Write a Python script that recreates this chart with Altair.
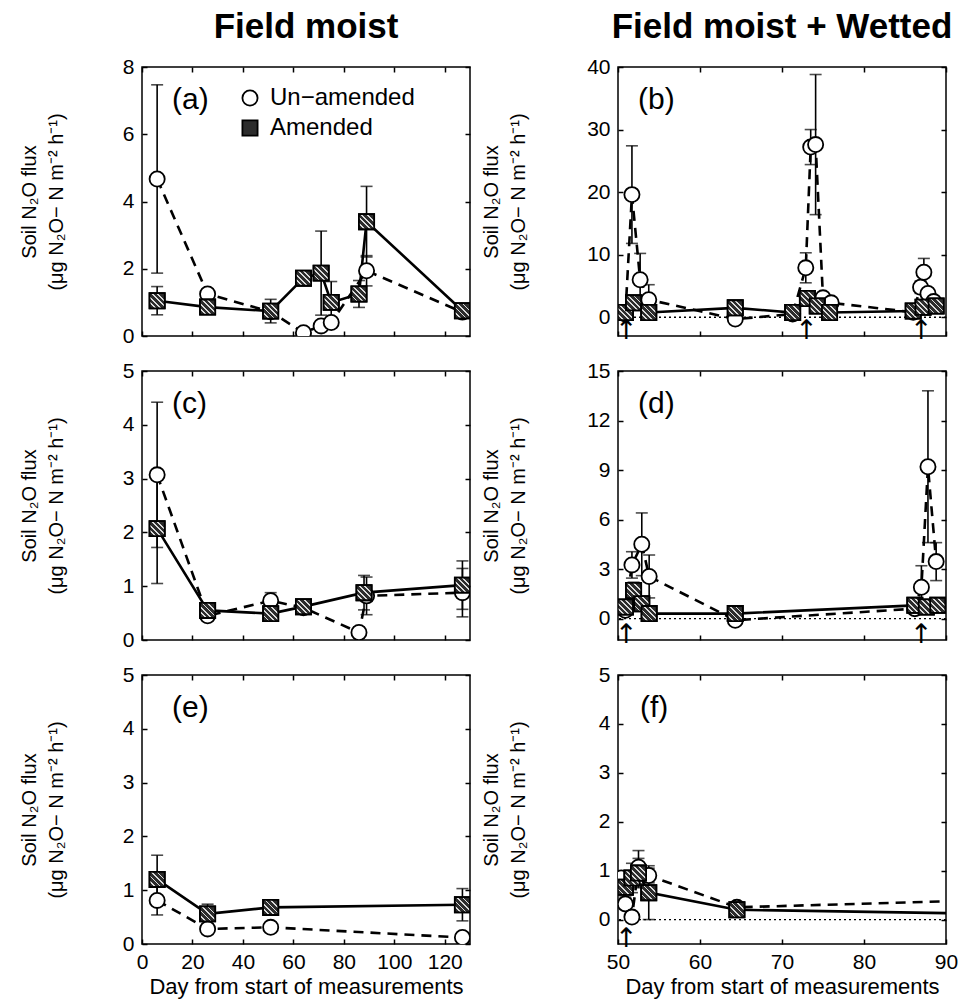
import altair as alt
import pandas as pd

FONT = "Liberation Sans"
W, H = 328, 269

series_names = ["Un−amended", "Amended"]

# ---------------- data ----------------
# (a) Field moist
a_ua_day = [6, 26, 51, 64, 71, 75, 89, 127]
a_ua_val = [4.67, 1.25, 0.72, 0.10, 0.30, 0.40, 1.94, 0.71]
a_ua_err = [2.80, 0.15, 0.15, 0.10, 0.10, 0.10, 0.45, 0.10]
a_am_day = [6, 26, 51, 64, 71, 75, 86, 89, 127]
a_am_val = [1.05, 0.86, 0.74, 1.72, 1.87, 1.00, 1.25, 3.40, 0.75]
a_am_err = [0.42, 0.10, 0.35, 0.10, 1.25, 0.62, 0.40, 1.05, 0.10]

# (b) Field moist + Wetted
b_ua_day = [50.9, 51.7, 52.7, 53.75, 64.3, 71.3, 72.9, 73.5, 74.1, 75.0, 76.0, 86.0, 86.9, 87.3, 87.8, 88.5]
b_ua_val = [0.5, 19.6, 6.0, 2.8, -0.3, 0.5, 7.9, 27.2, 27.6, 3.1, 2.3, 0.8, 4.8, 7.2, 3.8, 2.5]
b_ua_err = [0.5, 7.8, 4.2, 2.4, 0.5, 0.5, 2.4, 2.8, 11.2, 0.8, 0.6, 0.5, 1.0, 2.2, 0.8, 0.6]
b_am_day = [50.9, 51.9, 53.75, 64.3, 71.3, 73.1, 74.3, 75.8, 86.0, 87.2, 88.8]
b_am_val = [0.75, 2.3, 0.75, 1.5, 0.75, 3.0, 1.8, 0.75, 1.0, 1.6, 1.8]
b_am_err = [0.4, 1.0, 0.4, 0.4, 0.4, 0.8, 0.5, 0.4, 0.4, 0.5, 0.5]

# (c) Field moist
c_ua_day = [6, 26, 51, 64, 86, 89, 127]
c_ua_val = [3.07, 0.45, 0.73, 0.60, 0.14, 0.82, 0.88]
c_ua_err = [1.35, 0.08, 0.15, 0.10, 0.10, 0.35, 0.45]
c_am_day = [6, 26, 51, 64, 88, 127]
c_am_val = [2.07, 0.55, 0.49, 0.62, 0.88, 1.02]
c_am_err = [1.02, 0.08, 0.10, 0.10, 0.32, 0.45]

# (d) Field moist + Wetted
d_ua_day = [50.9, 51.7, 52.9, 53.8, 64.3, 86.2, 87.0, 87.8, 88.8]
d_ua_val = [0.5, 3.25, 4.5, 2.55, -0.1, 0.6, 1.9, 9.2, 3.45]
d_ua_err = [0.3, 0.8, 1.9, 1.3, 0.15, 0.3, 1.3, 4.6, 1.15]
d_am_day = [50.9, 51.9, 52.9, 53.8, 64.3, 86.2, 87.6, 89.0]
d_am_val = [0.7, 1.7, 0.9, 0.3, 0.3, 0.8, 0.7, 0.8]
d_am_err = [0.2, 0.5, 0.3, 0.15, 0.1, 0.3, 0.3, 0.3]

# (e) Field moist
e_ua_day = [6, 26, 51, 127]
e_ua_val = [0.81, 0.28, 0.31, 0.12]
e_ua_err = [0.27, 0.05, 0.05, 0.05]
e_am_day = [6, 26, 51, 127]
e_am_val = [1.20, 0.56, 0.68, 0.73]
e_am_err = [0.45, 0.18, 0.08, 0.30]

# (f) Field moist + Wetted
f_ua_day = [50.4, 50.9, 51.7, 52.5, 53.75, 64.5, 127]
f_ua_val = [0.85, 0.32, 0.05, 1.07, 0.90, 0.25, 0.55]
f_ua_err = [0.10, 0.10, 0.10, 0.34, 0.15, 0.05, 0.05]
f_am_day = [50.9, 51.7, 52.5, 53.75, 64.5, 127]
f_am_val = [0.66, 0.85, 0.95, 0.55, 0.20, 0.03]
f_am_err = [0.20, 0.30, 0.30, 0.55, 0.05, 0.05]

left_x_domain = [0, 130]
left_x_ticks = [0, 20, 40, 60, 80, 100, 120]
right_x_domain = [50, 90]
right_x_ticks = [50, 60, 70, 80, 90]

a_y_domain, a_y_ticks = [0, 8], [0, 2, 4, 6, 8]
b_y_domain, b_y_ticks = [-3, 40], [0, 10, 20, 30, 40]
c_y_domain, c_y_ticks = [0, 5], [0, 1, 2, 3, 4, 5]
d_y_domain, d_y_ticks = [-1.3, 15], [0, 3, 6, 9, 12, 15]
e_y_domain, e_y_ticks = [0, 5], [0, 1, 2, 3, 4, 5]
f_y_domain, f_y_ticks = [-0.5, 5], [0, 1, 2, 3, 4, 5]

b_arrows = [51, 73, 87]
d_arrows = [51, 87]
f_arrows = [51]

col_titles = ["Field moist", "Field moist + Wetted"]
x_title = "Day from start of measurements"
y_title = ["Soil N₂O flux", "(μg N₂O− N m⁻² h⁻¹)"]

# ---------------- style ----------------
dark, light = "#2c2c2c", "#d9d9d9"
stops = [alt.GradientStop(color=dark, offset=0)]
for lo_, hi_ in [(0.17, 0.23), (0.35, 0.41), (0.53, 0.59), (0.71, 0.77)]:
    stops += [alt.GradientStop(color=dark, offset=lo_), alt.GradientStop(color=light, offset=lo_),
              alt.GradientStop(color=light, offset=hi_), alt.GradientStop(color=dark, offset=hi_)]
stops.append(alt.GradientStop(color=dark, offset=1))
stripe = alt.LinearGradient(gradient="linear", x1=0, y1=1, x2=1, y2=0, stops=stops)

MSIZE = 230


def panel(letter, ua, am, xdom, xticks, ydom, yticks, arrows=None, title=None,
          bottom=False, legend=False, title_x=-118, label_x=30):
    df_ua = pd.DataFrame({"day": ua[0], "val": ua[1], "err": ua[2]})
    df_ua["series"] = series_names[0]
    df_am = pd.DataFrame({"day": am[0], "val": am[1], "err": am[2]})
    df_am["series"] = series_names[1]
    df = pd.concat([df_ua, df_am], ignore_index=True)
    df["lo"] = df["val"] - df["err"]
    df["hi"] = df["val"] + df["err"]
    inside = df[(df["day"] >= xdom[0]) & (df["day"] <= xdom[1])]

    xs = alt.Scale(domain=xdom, nice=False, zero=False)
    ys = alt.Scale(domain=ydom, nice=False, zero=False)

    def X():
        return alt.X("day:Q", scale=xs, axis=None)

    def Y(f="val"):
        return alt.Y(f"{f}:Q", scale=ys, axis=None)

    common_axis = dict(offset=-5, tickSize=5, tickWidth=1.5, tickColor="black",
                       domain=False, grid=False)
    xaxis_main = alt.Axis(orient="bottom", values=xticks, labels=bottom, format="d",
                          labelFont=FONT, labelFontSize=21, labelColor="black",
                          labelPadding=7, labelOverlap=False, labelFlush=False,
                          title=x_title if bottom else None, titleFont=FONT,
                          titleFontSize=22, titleFontWeight="normal", titleColor="black",
                          titlePadding=4, **common_axis)
    yaxis_main = alt.Axis(orient="left", values=yticks, format="d",
                          labelFont=FONT, labelFontSize=21, labelColor="black",
                          labelPadding=8, labelOverlap=False, labelFlush=False,
                          title=y_title, titleFont=FONT, titleFontSize=20,
                          titleFontWeight="normal", titleColor="black",
                          titleLineHeight=27, titleX=title_x, titleY=H / 2,
                          titleAngle=270, titleAlign="center", titleBaseline="middle",
                          **common_axis)
    xaxis_top = alt.Axis(orient="top", values=xticks, labels=False, title=None, **common_axis)
    yaxis_right = alt.Axis(orient="right", values=yticks, labels=False, title=None, **common_axis)

    carrier = alt.Chart(inside)
    ax_main = carrier.mark_point(opacity=0, clip=True).encode(
        x=alt.X("day:Q", scale=xs, axis=xaxis_main),
        y=alt.Y("val:Q", scale=ys, axis=yaxis_main))
    ax_mirror = carrier.mark_point(opacity=0, clip=True).encode(
        x=alt.X("day:Q", scale=xs, axis=xaxis_top),
        y=alt.Y("val:Q", scale=ys, axis=yaxis_right))

    layers = [ax_main, ax_mirror]

    if arrows is not None:
        zero = alt.Chart(pd.DataFrame({"z": [0]})).mark_rule(
            color="black", strokeWidth=1.3, strokeDash=[2, 3]).encode(y=Y("z"))
        layers.append(zero)

    base = alt.Chart(df)
    line_ua = base.transform_filter(alt.datum.series == series_names[0]).mark_line(
        color="black", strokeWidth=2.6, strokeDash=[10, 7], clip=True).encode(x=X(), y=Y())
    line_am = base.transform_filter(alt.datum.series == series_names[1]).mark_line(
        color="black", strokeWidth=2.6, clip=True).encode(x=X(), y=Y())
    pbase = alt.Chart(inside)
    err = pbase.mark_rule(color="black", strokeWidth=1.6, clip=True).encode(
        x=X(), y=Y("lo"), y2=alt.Y2("hi:Q"))
    cap_hi = pbase.mark_tick(orient="horizontal", size=12, thickness=1.6, color="black",
                             clip=True).encode(x=X(), y=Y("hi"))
    cap_lo = pbase.mark_tick(orient="horizontal", size=12, thickness=1.6, color="black",
                             clip=True).encode(x=X(), y=Y("lo"))

    leg = None
    if legend:
        leg = alt.Legend(orient="none", legendX=96, legendY=19, title=None,
                         labelFont=FONT, labelFontSize=24, labelColor="black",
                         labelOffset=8, symbolSize=MSIZE, symbolStrokeColor="black",
                         symbolStrokeWidth=1.8, rowPadding=6, padding=0)
    pts = pbase.mark_point(filled=True, size=MSIZE, strokeWidth=1.8,
                           opacity=1, clip=True).encode(
        x=X(), y=Y(),
        shape=alt.Shape("series:N", scale=alt.Scale(domain=series_names, range=["circle", "square"]),
                        legend=leg),
        fill=alt.Fill("series:N", scale=alt.Scale(domain=series_names, range=["white", dark]),
                      legend=leg),
        stroke=alt.Stroke("series:N", scale=alt.Scale(domain=series_names, range=["black", "black"]),
                          legend=leg),
        order=alt.Order("sortkey:Q"),
    ).transform_calculate(sortkey=f"datum.series == '{series_names[0]}' ? 0 : 1")
    stripes = pbase.transform_filter(alt.datum.series == series_names[1]).mark_point(
        shape="square", filled=True, size=MSIZE, fill=stripe, stroke="black",
        strokeWidth=1.8, opacity=1, clip=True).encode(x=X(), y=Y())

    layers += [line_ua, line_am, err, cap_hi, cap_lo, pts, stripes]

    if arrows is not None:
        arr = alt.Chart(pd.DataFrame({"day": arrows, "y": [ydom[0]] * len(arrows)})).mark_text(
            text="↑", font="DejaVu Sans", fontSize=27, baseline="alphabetic", align="center",
            color="black", dy=3).encode(x=X(), y=Y("y"))
        layers.append(arr)

    lab = alt.Chart(pd.DataFrame({"t": [f"({letter})"]})).mark_text(
        font=FONT, fontSize=30, align="left", baseline="middle", color="black").encode(
        text="t:N", x=alt.value(label_x), y=alt.value(33))
    layers.append(lab)

    ch = alt.layer(*layers).resolve_axis(x="independent", y="independent").properties(
        width=W, height=H)
    if title is not None:
        ch = ch.properties(title=alt.Title(title, font=FONT, fontSize=35, fontWeight="bold",
                                           anchor="middle", offset=11, color="black"))
    return ch


pa = panel("a", (a_ua_day, a_ua_val, a_ua_err), (a_am_day, a_am_val, a_am_err),
           left_x_domain, left_x_ticks, a_y_domain, a_y_ticks, title=col_titles[0], legend=True)
pb = panel("b", (b_ua_day, b_ua_val, b_ua_err), (b_am_day, b_am_val, b_am_err),
           right_x_domain, right_x_ticks, b_y_domain, b_y_ticks, arrows=b_arrows,
           title=col_titles[1], title_x=-132, label_x=20)
pc = panel("c", (c_ua_day, c_ua_val, c_ua_err), (c_am_day, c_am_val, c_am_err),
           left_x_domain, left_x_ticks, c_y_domain, c_y_ticks)
pd_ = panel("d", (d_ua_day, d_ua_val, d_ua_err), (d_am_day, d_am_val, d_am_err),
            right_x_domain, right_x_ticks, d_y_domain, d_y_ticks, arrows=d_arrows,
            title_x=-132, label_x=20)
pe = panel("e", (e_ua_day, e_ua_val, e_ua_err), (e_am_day, e_am_val, e_am_err),
           left_x_domain, left_x_ticks, e_y_domain, e_y_ticks, bottom=True)
pf = panel("f", (f_ua_day, f_ua_val, f_ua_err), (f_am_day, f_am_val, f_am_err),
           right_x_domain, right_x_ticks, f_y_domain, f_y_ticks, arrows=f_arrows,
           bottom=True, title_x=-132, label_x=22)

HS = 8
rows = [alt.hconcat(l, r, spacing=HS).resolve_scale(shape="independent", fill="independent",
                                                     stroke="independent")
        for l, r in [(pa, pb), (pc, pd_), (pe, pf)]]

chart = alt.vconcat(*rows, spacing=12).resolve_scale(
    shape="independent", fill="independent", stroke="independent").properties(
    padding={"left": 18, "top": 9, "right": 5, "bottom": 2}
).configure(font=FONT).configure_view(stroke="black", strokeWidth=1.5)

chart.save("out.html", embed_options={"renderer": "svg", "actions": False})
